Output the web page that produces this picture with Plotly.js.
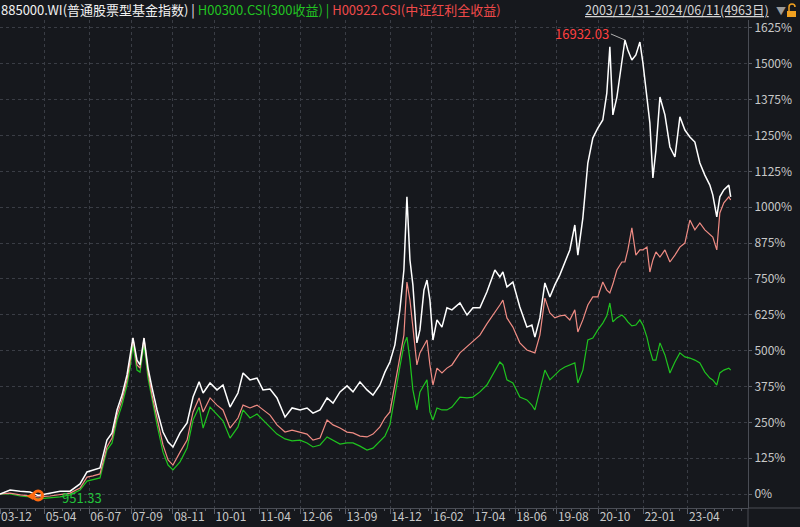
<!DOCTYPE html>
<html><head><meta charset="utf-8">
<script src="https://cdn.plot.ly/plotly-3.0.1.min.js"></script>
<style>html,body{margin:0;padding:0;background:#16181d;}#chart{width:800px;height:527px;}</style>
</head><body><div id="chart"></div>
<script>
const dates = ["2003-12-31","2004-04-12","2004-07-23","2004-11-02","2005-01-23","2005-05-26","2005-09-05","2005-12-16","2006-03-28","2006-06-07","2006-08-07","2006-10-18","2006-12-28","2007-02-18","2007-04-10","2007-05-31","2007-07-21","2007-08-21","2007-09-20","2007-10-31","2007-12-01","2008-01-11","2008-02-21","2008-04-02","2008-05-23","2008-07-23","2008-09-13","2008-11-02","2009-01-13","2009-03-26","2009-05-26","2009-07-27","2009-09-06","2009-11-16","2010-01-26","2010-03-28","2010-06-08","2010-08-28","2010-10-19","2010-12-29","2011-03-11","2011-05-11","2011-07-22","2011-10-01","2011-12-22","2012-03-03","2012-05-24","2012-08-03","2012-10-03","2012-12-14","2013-02-24","2013-04-26","2013-07-06","2013-09-16","2013-11-16","2014-01-26","2014-04-08","2014-06-08","2014-08-18","2014-10-08","2014-11-28","2015-01-18","2015-03-10","2015-04-20","2015-05-21","2015-06-21","2015-07-21","2015-08-31","2015-10-01","2015-11-11","2015-12-12","2016-01-11","2016-02-11","2016-03-23","2016-05-13","2016-07-03","2016-08-23","2016-11-13","2017-01-24","2017-03-26","2017-06-05","2017-08-15","2017-11-05","2017-12-26","2018-01-26","2018-03-08","2018-05-08","2018-07-18","2018-09-28","2018-11-18","2018-12-19","2019-02-08","2019-03-31","2019-05-21","2019-07-11","2019-08-31","2019-10-21","2019-12-11","2020-01-31","2020-03-02","2020-04-22","2020-06-12","2020-08-02","2020-09-22","2020-11-12","2020-12-23","2021-01-23","2021-02-23","2021-04-05","2021-05-26","2021-06-26","2021-07-26","2021-09-05","2021-10-16","2021-11-26","2021-12-27","2022-02-06","2022-03-08","2022-04-08","2022-05-09","2022-06-19","2022-08-09","2022-09-29","2022-11-19","2023-01-09","2023-03-01","2023-04-21","2023-06-11","2023-08-01","2023-09-21","2023-11-11","2023-12-11","2024-01-21","2024-02-21","2024-04-02","2024-05-23","2024-06-11"];

// 885000.WI 普通股票型基金指数, cumulative return %
const fundIndex = [0,14,10,7,-5,3,10,10,35,77,84,91,188,213,293,345,415,474,544,467,450,544,439,370,293,216,181,164,213,248,338,391,352,387,363,380,303,352,422,398,404,363,366,335,268,300,293,300,282,293,335,317,356,377,356,391,363,345,380,425,460,520,642,781,1036,816,729,527,572,711,746,676,537,607,582,649,642,666,624,649,649,704,781,757,774,722,739,652,582,589,547,614,736,687,729,764,809,851,938,833,962,1154,1241,1276,1304,1398,1559,1322,1384,1503,1583,1548,1513,1531,1576,1503,1384,1294,1102,1199,1384,1322,1210,1175,1315,1269,1245,1227,1154,1112,1077,1043,966,1036,1060,1077,1036];

// H00300.CSI 300收益, cumulative return %
const csi300 = [0,0,-7,-10,-17,-14,-10,-3,14,45,49,56,153,178,258,310,380,439,520,432,425,520,404,328,241,146,101,84,112,160,258,303,230,303,279,255,195,234,293,265,279,258,230,209,192,185,188,178,164,171,199,188,174,178,178,167,153,160,185,202,241,335,443,520,547,467,363,293,356,380,398,286,258,300,293,293,303,338,335,338,356,380,432,460,450,398,387,338,328,310,293,363,432,398,415,432,443,450,457,387,432,537,544,572,596,621,666,600,614,624,614,600,586,589,607,589,547,502,467,467,527,485,422,460,492,478,474,467,457,425,404,398,380,422,432,439,432];

// H00922.CSI 中证红利全收益, cumulative return %
const dividend = [0,3,-3,-7,-10,-7,-3,3,21,59,63,70,164,195,275,328,397,460,544,450,439,544,425,345,265,171,119,101,146,188,286,335,286,335,310,293,230,265,310,300,310,293,275,241,216,223,216,209,188,195,258,241,230,216,213,202,199,209,234,265,286,380,467,554,739,676,582,450,492,520,537,450,380,439,422,439,450,492,513,530,554,593,631,659,676,614,582,527,502,495,492,554,683,631,614,621,624,607,642,565,607,659,687,687,739,711,701,732,781,809,809,851,928,833,851,851,861,774,816,844,826,851,809,833,861,875,955,921,945,921,903,896,851,980,1015,1036,1025];

const tickDates = ["2003-12-31","2005-04-01","2006-07-01","2007-09-01","2008-11-01","2010-01-01","2011-04-01","2012-06-01","2013-09-01","2014-12-01","2016-02-01","2017-04-01","2018-06-01","2019-08-01","2020-10-01","2022-01-01","2023-04-01"];
const tickLabels = ["03-12","05-04","06-07","07-09","08-11","10-01","11-04","12-06","13-09","14-12","16-02","17-04","18-06","19-08","20-10","22-01","23-04"];
const yTicks = [0,125,250,375,500,625,750,875,1000,1125,1250,1375,1500,1625];
const yTickLabels = ["0%","125%","250%","375%","500%","625%","750%","875%","1000%","1125%","1250%","1375%","1500%","1625%"];

const maxLabel = "16932.03";
const minLabel = "951.33";
const rangeLabel = "2003/12/31-2024/06/11(4963日)";

let maxI = 0, minI = 0;
fundIndex.forEach((v, i) => { if (v > fundIndex[maxI]) maxI = i; if (v < fundIndex[minI]) minI = i; });

const FONT = "Noto Sans CJK SC, Liberation Sans, sans-serif";
const BG = "#16181d";

const traces = [
  {x: dates, y: csi300, type: "scatter", mode: "lines", line: {color: "#1fc41f", width: 1.2}, hoverinfo: "skip"},
  {x: dates, y: dividend, type: "scatter", mode: "lines", line: {color: "#f08c84", width: 1.2}, hoverinfo: "skip"},
  {x: dates, y: fundIndex, type: "scatter", mode: "lines", line: {color: "#ffffff", width: 1.5}, hoverinfo: "skip"},
  {x: [dates[minI]], y: [fundIndex[minI]], type: "scatter", mode: "markers",
   marker: {symbol: "circle-open", size: 9, color: "#ff6a10", line: {color: "#ff6a10", width: 3}}, hoverinfo: "skip"}
];

const px = x => x / 748, py = y => (508 - y) / 488;

const layout = {
  width: 800, height: 527,
  paper_bgcolor: BG, plot_bgcolor: BG,
  margin: {l: 0, r: 52, t: 20, b: 19},
  showlegend: false,
  font: {family: FONT, size: 12, color: "#c8c8c8"},
  xaxis: {
    type: "date", range: ["2003-12-31", "2024-12-05"],
    tickmode: "array", tickvals: tickDates, ticktext: tickLabels,
    ticklabelposition: "outside right", ticklabelstandoff: -2,
    showgrid: true, gridcolor: "#3a3d45", griddash: "dot", gridwidth: 1,
    ticks: "outside", ticklen: 5, tickcolor: "#5a5d66",
    showline: true, linecolor: "#4a4d55", linewidth: 1,
    zeroline: false,
    tickfont: {family: FONT, size: 12, color: "#c8c8c8"},
    minor: {ticks: "outside", ticklen: 2, dtick: "M3", tickcolor: "#5a5d66", showgrid: false}
  },
  yaxis: {
    side: "right", range: [-48.8, 1652.7],
    tickmode: "array", tickvals: yTicks, ticktext: yTickLabels,
    showgrid: true, gridcolor: "#3a3d45", griddash: "dot", gridwidth: 1,
    ticks: "outside", ticklen: 3, tickcolor: "#5a5d66",
    showline: true, linecolor: "#4a4d55", linewidth: 1,
    zeroline: false,
    tickfont: {family: FONT, size: 12, color: "#c8c8c8"}
  },
  annotations: [
    {xref: "paper", yref: "paper", x: 0, y: 1, xanchor: "left", yanchor: "bottom", xshift: -1, yshift: -1, showarrow: false,
     font: {family: FONT, size: 13},
     text: '<span style="color:#f2f2f2">885000.WI(普通股票型基金指数) | </span><span style="color:#22c322">H00300.CSI(300收益) | </span><span style="color:#f04a4a">H00922.CSI(中证红利全收益)</span>'},
    {xref: "paper", yref: "paper", x: px(771), y: 1, xanchor: "right", yanchor: "bottom", yshift: -1, showarrow: false,
     font: {family: FONT, size: 12.5, color: "#d6d6d6"}, text: "<u>" + rangeLabel + "</u>"},
    {xref: "paper", yref: "paper", x: px(781), y: 1, xanchor: "center", yanchor: "bottom", yshift: 0, showarrow: false,
     font: {family: FONT, size: 10, color: "#9a9a9a"}, text: "▼"},
    {x: dates[maxI], y: fundIndex[maxI], xref: "x", yref: "y", showarrow: true, arrowhead: 0, arrowwidth: 1, arrowcolor: "#b0b0b0",
     ax: -14, ay: -6, xanchor: "right", yanchor: "middle", standoff: 0,
     font: {family: FONT, size: 13, color: "#ff4040"}, text: maxLabel},
    {x: dates[minI], y: fundIndex[minI], xref: "x", yref: "y", showarrow: false, xanchor: "left", yanchor: "middle",
     xshift: 22, yshift: -2, font: {family: FONT, size: 13, color: "#22c33a"}, text: minLabel},
    {x: dates[minI], y: fundIndex[minI], xref: "x", yref: "y", showarrow: false, xanchor: "center", yanchor: "middle",
     xshift: -8, yshift: 0, font: {family: FONT, size: 8, color: "#ff6a10"}, text: "◀"}
  ],
  shapes: [
    {type: "line", xref: "paper", yref: "paper", x0: 1, x1: px(800), y0: 0, y1: 0, line: {color: "#4a4d55", width: 1}},
    {type: "line", xref: "paper", yref: "paper", x0: 1, x1: 1, y0: py(527), y1: 0, line: {color: "#4a4d55", width: 1}},
    {type: "rect", xref: "paper", yref: "paper", x0: px(787), x1: px(796), y0: py(17), y1: py(11), fillcolor: "#f0a020", line: {width: 0}},
    {type: "path", xref: "paper", yref: "paper",
     path: `M ${px(789)},${py(11)} L ${px(789)},${py(7)} Q ${px(789)},${py(4)} ${px(792)},${py(4)} Q ${px(795)},${py(4)} ${px(795)},${py(7)}`,
     line: {color: "#f0a020", width: 1.5}}
  ]
};

Plotly.newPlot("chart", traces, layout, {displayModeBar: false, staticPlot: true});
</script>
</body></html>
